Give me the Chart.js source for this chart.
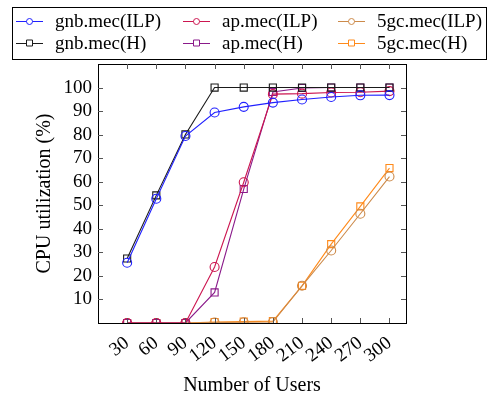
<!DOCTYPE html>
<html>
<head>
<meta charset="utf-8">
<script src="https://cdn.jsdelivr.net/npm/chart.js@4.4.0/dist/chart.umd.min.js"></script>
<style>
  html, body { margin: 0; padding: 0; background: #fff; }
  #wrap { width: 488px; height: 398px; }
</style>
</head>
<body>
<div id="wrap"><canvas id="mycanvas" width="488" height="398"></canvas></div>
<script>
// number of users
var users = [30, 60, 90, 120, 150, 180, 210, 240, 270, 300];

// CPU utilization (%)
var gnbILP = [25.6, 52.8, 79.4, 89.4, 91.8, 93.6, 94.9, 96.0, 96.7, 96.8];
var gnbH   = [27.4, 54.2, 80.1, 100, 100, 100, 100, 100, 100, 100];
var apILP  = [0, 0, 0, 23.8, 59.8, 97.2, 97.4, 97.9, 98.0, 98.5];
var apH    = [0, 0, 0, 13.0, 56.9, 98.1, 99.8, 100, 100, 100];
var gcILP  = [0, 0, 0, 0.2, 0.3, 0.4, 15.8, 30.8, 46.4, 62.2];
var gcH    = [0, 0, 0, 0.4, 0.6, 0.8, 15.8, 33.5, 49.5, 65.8];

var yTicks = [10, 20, 30, 40, 50, 60, 70, 80, 90, 100];

var FONT = "'Liberation Serif', 'Times New Roman', serif";

function pts(vals) {
    var out = [];
    for (var i in users) {
        out.push({x: users[i], y: vals[i]});
    }
    return out;
}

function series(label, vals, color, shape) {
    return {
        label: label,
        data: pts(vals),
        borderColor: color,
        backgroundColor: 'rgba(0,0,0,0)',
        borderWidth: 1.1,
        pointStyle: shape,
        pointRadius: shape == 'rect' ? 5 : 4.5,
        pointBorderWidth: 1.1,
        pointBorderColor: color,
        pointBackgroundColor: 'rgba(0,0,0,0)',
        tension: 0
    };
}

var datasets = [
    series('gnb.mec(ILP)', gnbILP, '#2020ff', 'circle'),
    series('gnb.mec(H)', gnbH, '#1a1a1a', 'rect'),
    series('ap.mec(ILP)', apILP, '#cc1650', 'circle'),
    series('ap.mec(H)', apH, '#8a1a8a', 'rect'),
    series('5gc.mec(ILP)', gcILP, '#cc8a4a', 'circle'),
    series('5gc.mec(H)', gcH, '#ff8a1a', 'rect')
];

// frame, inward ticks on all sides, legend box
var frameAndLegend = {
    id: 'frameAndLegend',
    afterDraw: function(chart) {
        var c = chart.ctx;
        var a = chart.chartArea;
        var xs = chart.scales.x, ys = chart.scales.y;
        c.save();
        c.strokeStyle = '#000';
        c.lineWidth = 1;
        c.strokeRect(Math.round(a.left) + 0.5, Math.round(a.top) + 0.5,
                     Math.round(a.right - a.left), Math.round(a.bottom - a.top));
        c.strokeStyle = '#555';
        c.beginPath();
        users.forEach(function(u) {
            var px = Math.round(xs.getPixelForValue(u)) + 0.5;
            c.moveTo(px, a.bottom); c.lineTo(px, a.bottom - 5);
            c.moveTo(px, a.top); c.lineTo(px, a.top + 5);
        });
        yTicks.forEach(function(v) {
            var py = Math.round(ys.getPixelForValue(v)) + 0.5;
            c.moveTo(a.left, py); c.lineTo(a.left + 5, py);
            c.moveTo(a.right, py); c.lineTo(a.right - 5, py);
        });
        c.stroke();

        // legend
        c.strokeStyle = '#000';
        c.strokeRect(12.5, 7.5, 474, 52);
        var cols = [16, 183, 338];
        var rows = [21, 43];
        c.font = '19px ' + FONT;
        c.textBaseline = 'middle';
        c.fillStyle = '#000';
        for (var i = 0; i < datasets.length; i++) {
            var d = datasets[i];
            var x0 = cols[Math.floor(i / 2)], y0 = rows[i % 2];
            c.strokeStyle = d.borderColor;
            c.beginPath();
            c.moveTo(x0, y0 + 0.5); c.lineTo(x0 + 27, y0 + 0.5);
            c.stroke();
            c.beginPath();
            if (d.pointStyle == 'rect') {
                c.rect(x0 + 10.5, y0 - 3, 6, 6);
            } else {
                c.arc(x0 + 13.5, y0 + 0.5, 3, 0, Math.PI * 2);
            }
            c.fillStyle = '#fff';
            c.fill();
            c.stroke();
            c.fillStyle = '#000';
            c.fillText(d.label, x0 + 39, y0 + 1);
        }
        c.restore();
    }
};

var ctx = document.getElementById('mycanvas');
var lineGraph = new Chart(ctx, {
    type: 'line',
    data: { datasets: datasets },
    plugins: [frameAndLegend],
    options: {
        responsive: false,
        animation: false,
        layout: { padding: { top: 64, right: 82, bottom: 0, left: 0 } },
        plugins: { legend: { display: false }, tooltip: { enabled: false } },
        scales: {
            x: {
                type: 'linear',
                min: 0,
                max: 317,
                afterBuildTicks: function(scale) {
                    scale.ticks = users.map(function(u) { return {value: u}; });
                },
                afterFit: function(scale) { scale.height = 75; },
                grid: { display: false, drawTicks: false },
                border: { display: false },
                ticks: {
                    autoSkip: false,
                    minRotation: 37,
                    maxRotation: 37,
                    padding: 9,
                    color: '#000',
                    font: { family: FONT, size: 19 }
                },
                title: {
                    display: true,
                    text: 'Number of Users',
                    color: '#000',
                    padding: { top: 0, bottom: 0 },
                    font: { family: FONT, size: 20 }
                }
            },
            y: {
                min: 0,
                max: 110,
                afterBuildTicks: function(scale) {
                    scale.ticks = yTicks.map(function(v) { return {value: v}; });
                },
                afterFit: function(scale) { scale.width = 98; },
                grid: { display: false, drawTicks: false },
                border: { display: false },
                ticks: {
                    padding: 6,
                    color: '#000',
                    font: { family: FONT, size: 19 }
                },
                title: {
                    display: true,
                    text: 'CPU utilization (%)',
                    color: '#000',
                    padding: { top: 33, bottom: 0 },
                    font: { family: FONT, size: 20 }
                }
            }
        }
    }
});
</script>
</body>
</html>
